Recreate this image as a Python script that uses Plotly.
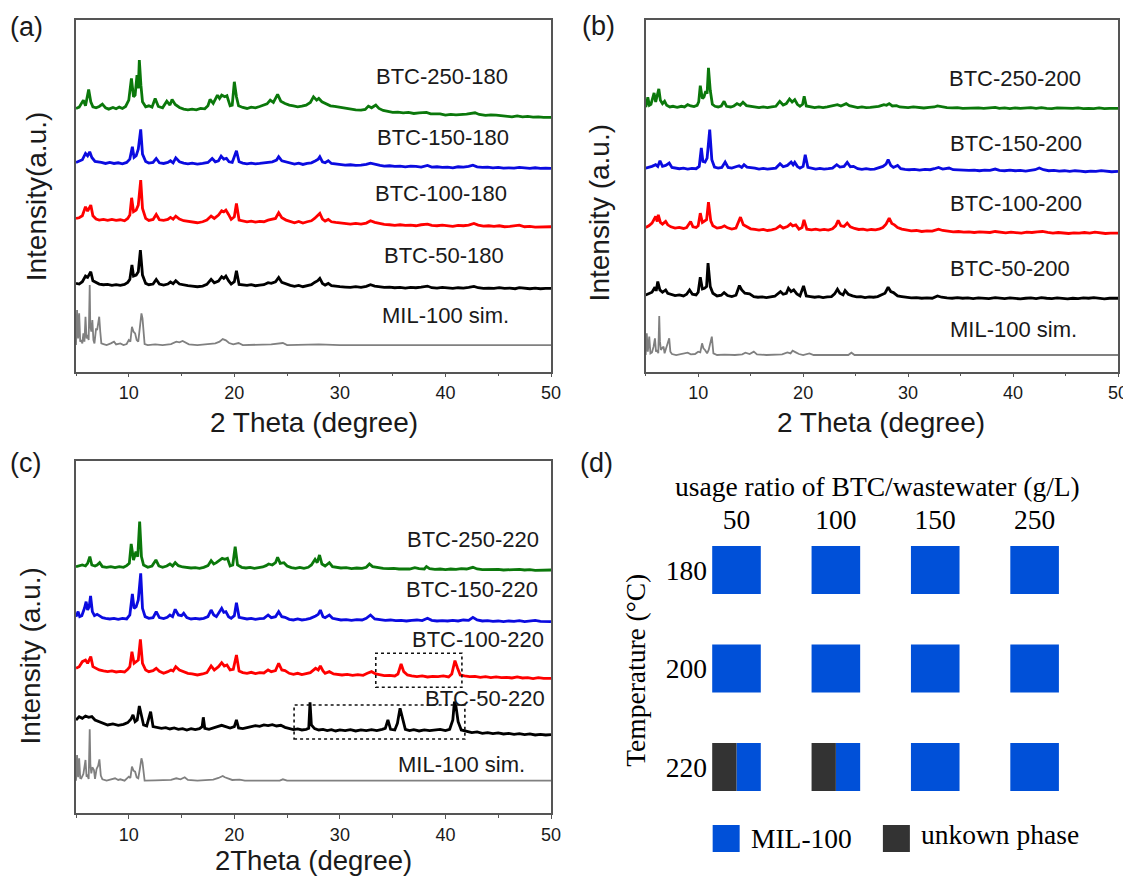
import plotly.graph_objects as go

# ---------------- shared axis settings ----------------
TWO_THETA_RANGE = [5, 50]
X_TICKS = [10, 20, 30, 40, 50]
COLORS = ["#0B780B", "#0B0BE0", "#FF0000", "#000000", "#808080"]

# ---------------- panel (a) : 180 C ----------------
A_LABELS = ["BTC-250-180", "BTC-150-180", "BTC-100-180", "BTC-50-180", "MIL-100 sim."]
A_OFFSETS = [790, 628, 460, 265, 80]
A_LABEL_X = [39.7, 39.76, 39.6, 39.85, 40.05]
A_LABEL_Y = [885, 703, 535, 350, 170]

A_250 = [(5.0,0),(5.3,4),(5.7,25),(5.9,8),(6.2,57),(6.4,20),(6.6,5),(6.9,2),(7.2,6),(7.5,13),(7.8,2),(8.1,-2),(8.5,3),(8.8,-1),(9.1,4),(9.4,0),(9.7,6),(10.0,25),(10.25,90),(10.45,35),(10.6,40),(10.78,100),(10.9,60),(11.0,145),(11.15,70),(11.3,20),(11.6,5),(11.9,8),(12.2,4),(12.5,30),(12.8,6),(13.2,2),(13.6,22),(13.9,10),(14.1,27),(14.4,12),(14.8,3),(15.2,-2),(15.6,-4),(16.0,-2),(16.4,-4),(16.8,0),(17.2,-1),(17.5,8),(17.7,27),(18.0,15),(18.4,40),(18.6,30),(18.8,40),(19.1,35),(19.3,38),(19.6,8),(19.8,10),(20.0,80),(20.2,35),(20.4,8),(20.8,3),(21.2,0),(21.6,4),(22.0,2),(22.4,6),(22.8,10),(23.1,14),(23.4,25),(23.7,18),(24.1,42),(24.4,22),(24.8,15),(25.2,10),(25.6,8),(26.0,5),(26.4,7),(26.8,10),(27.2,18),(27.5,35),(27.8,25),(28.0,30),(28.3,20),(28.7,15),(29.1,8),(29.5,6),(30.0,3),(30.5,0),(31.0,-2),(31.5,-4),(32.0,-5),(32.4,-3),(32.7,7),(33.0,2),(33.4,10),(33.7,0),(34.1,-6),(34.5,-8),(35.0,-12),(35.5,-11),(36.0,-13),(36.5,-12),(37.0,-15),(37.5,-13),(38.2,-12),(38.6,-16),(39.0,-17),(39.5,-16),(40.0,-20),(40.5,-18),(41.0,-19),(41.5,-18),(42.0,-17),(42.8,-13),(43.2,-18),(43.8,-21),(44.3,-19),(44.8,-20),(45.3,-22),(45.8,-23),(46.3,-25),(46.8,-22),(47.3,-25),(47.8,-24),(48.3,-26),(48.8,-25),(49.3,-27),(50.0,-27)]
A_150 = [(5.0,0),(5.3,3),(5.6,8),(5.9,27),(6.1,20),(6.3,32),(6.5,15),(6.8,3),(7.1,2),(7.4,0),(7.8,-3),(8.2,0),(8.6,-3),(9.0,-1),(9.4,-4),(9.8,0),(10.1,10),(10.34,47),(10.5,15),(10.7,20),(10.9,40),(11.13,99),(11.3,25),(11.6,3),(11.9,-2),(12.3,0),(12.6,12),(12.9,-1),(13.3,-3),(13.7,0),(13.95,5),(14.2,-1),(14.45,14),(14.8,2),(15.2,-2),(15.6,-4),(16.0,-2),(16.5,-5),(17.0,-3),(17.5,0),(17.9,12),(18.2,2),(18.5,5),(18.75,19),(19.0,10),(19.25,12),(19.5,2),(19.8,0),(20.2,35),(20.45,2),(20.8,-2),(21.2,-4),(21.6,-2),(22.0,-4),(22.4,-3),(22.8,-2),(23.2,0),(23.6,2),(24.0,7),(24.2,17),(24.5,5),(24.9,2),(25.3,-3),(25.7,-5),(26.1,-2),(26.5,-6),(26.9,-3),(27.3,-1),(27.7,5),(27.95,10),(28.1,17),(28.35,2),(28.6,-1),(28.9,5),(29.2,-3),(29.6,-5),(30.0,-6),(30.5,-8),(31.0,-7),(31.5,-9),(32.0,-8),(32.5,-6),(32.9,-2),(33.3,-6),(33.8,-9),(34.2,-11),(34.7,-10),(35.2,-12),(35.7,-11),(36.2,-13),(36.7,-11),(37.2,-12),(37.7,-14),(38.3,-9),(38.7,-14),(39.2,-13),(39.7,-15),(40.2,-14),(40.7,-16),(41.2,-13),(41.7,-14),(42.2,-12),(42.6,-8),(43.0,-13),(43.5,-15),(44.0,-14),(44.5,-16),(45.0,-15),(45.5,-17),(46.0,-16),(46.5,-17),(47.0,-15),(47.5,-17),(48.0,-18),(48.5,-16),(49.0,-18),(49.5,-17),(50.0,-18)]
A_100 = [(5.0,0),(5.3,2),(5.6,8),(5.9,35),(6.1,22),(6.4,40),(6.6,8),(6.9,-2),(7.2,-5),(7.6,-3),(8.0,-6),(8.4,-3),(8.8,-6),(9.2,-4),(9.6,-7),(9.9,0),(10.1,10),(10.27,62),(10.45,20),(10.7,25),(10.9,40),(11.13,115),(11.3,30),(11.6,0),(11.9,-6),(12.3,-3),(12.6,12),(12.9,-4),(13.3,-6),(13.7,-3),(13.95,3),(14.2,-2),(14.45,7),(14.8,-2),(15.2,-7),(15.6,-9),(16.0,-11),(16.5,-13),(17.0,-10),(17.4,-5),(17.8,7),(18.1,0),(18.5,10),(18.8,23),(19.0,20),(19.2,25),(19.45,12),(19.7,-3),(20.0,5),(20.2,45),(20.45,-5),(20.8,-8),(21.2,-10),(21.6,-8),(22.0,-11),(22.4,-9),(22.8,-10),(23.2,-5),(23.5,-3),(23.9,0),(24.2,17),(24.5,2),(24.9,-5),(25.3,-10),(25.7,-13),(26.1,-9),(26.5,-14),(26.9,-10),(27.3,-7),(27.6,0),(27.9,8),(28.1,15),(28.35,-2),(28.6,-8),(28.9,-3),(29.2,-10),(29.6,-12),(30.0,-14),(30.5,-15),(31.0,-17),(31.5,-15),(32.0,-17),(32.5,-14),(32.9,-7),(33.3,-12),(33.8,-16),(34.2,-18),(34.7,-19),(35.2,-21),(35.7,-19),(36.2,-21),(36.7,-20),(37.2,-22),(37.7,-19),(38.3,-17),(38.7,-21),(39.2,-22),(39.7,-20),(40.2,-22),(40.7,-24),(41.2,-21),(41.7,-22),(42.2,-20),(42.7,-15),(43.1,-20),(43.6,-23),(44.1,-22),(44.6,-24),(45.1,-22),(45.6,-25),(46.1,-24),(46.6,-22),(47.0,-20),(47.5,-25),(48.0,-24),(48.5,-26),(49.0,-25),(49.5,-26),(50.0,-25)]
A_50 = [(5.0,0),(5.3,-2),(5.6,5),(5.9,22),(6.1,18),(6.4,35),(6.6,8),(6.9,2),(7.2,-2),(7.6,-4),(8.0,-3),(8.4,-6),(8.8,-4),(9.2,-6),(9.6,-3),(9.9,3),(10.1,12),(10.3,55),(10.45,22),(10.7,25),(10.9,35),(11.1,100),(11.3,25),(11.6,0),(11.9,-4),(12.3,-2),(12.6,12),(12.9,-2),(13.3,-5),(13.7,-2),(13.95,4),(14.2,-1),(14.45,8),(14.8,-2),(15.2,-5),(15.6,-7),(16.0,-8),(16.5,-10),(17.0,-8),(17.4,-3),(17.8,12),(18.1,2),(18.5,7),(18.8,20),(19.0,15),(19.2,22),(19.45,8),(19.7,-2),(20.0,5),(20.2,38),(20.45,-3),(20.8,-5),(21.2,-6),(21.6,-4),(22.0,-7),(22.4,-5),(22.8,-4),(23.2,2),(23.5,0),(23.9,5),(24.2,18),(24.5,3),(24.9,-2),(25.3,-6),(25.7,-9),(26.1,-6),(26.5,-10),(26.9,-7),(27.3,-4),(27.6,3),(27.9,8),(28.1,15),(28.35,0),(28.6,-5),(28.9,0),(29.2,-7),(29.6,-9),(30.0,-10),(30.5,-11),(31.0,-12),(31.5,-10),(32.0,-12),(32.5,-9),(32.9,-4),(33.3,-8),(33.8,-11),(34.2,-12),(34.7,-11),(35.2,-13),(35.7,-12),(36.2,-14),(36.7,-12),(37.2,-13),(37.7,-11),(38.3,-8),(38.7,-13),(39.2,-14),(39.7,-12),(40.2,-14),(40.7,-15),(41.2,-13),(41.7,-14),(42.2,-12),(42.7,-9),(43.1,-13),(43.6,-15),(44.1,-14),(44.6,-15),(45.1,-13),(45.6,-15),(46.1,-14),(46.6,-16),(47.0,-13),(47.5,-15),(48.0,-16),(48.5,-14),(49.0,-16),(49.5,-15),(50.0,-15)]
A_SIM = [(5.0,0),(5.05,60),(5.1,105),(5.2,20),(5.3,95),(5.4,10),(5.5,15),(5.6,5),(5.7,35),(5.8,10),(5.9,85),(6.0,20),(6.1,30),(6.2,15),(6.3,180),(6.35,60),(6.45,40),(6.55,75),(6.65,15),(6.75,5),(6.9,50),(7.0,45),(7.1,60),(7.2,85),(7.3,40),(7.4,5),(7.6,3),(7.9,0),(8.3,5),(8.6,10),(8.8,2),(9.2,5),(9.5,0),(9.8,3),(10.0,15),(10.15,10),(10.3,55),(10.45,40),(10.6,35),(10.75,15),(10.9,10),(11.05,45),(11.2,95),(11.3,80),(11.4,30),(11.5,3),(11.8,0),(12.5,2),(13.2,0),(14.0,3),(14.5,10),(14.8,8),(15.1,12),(15.4,8),(15.7,2),(16.5,0),(17.5,2),(18.2,5),(18.6,10),(18.9,18),(19.2,14),(19.5,6),(19.9,2),(20.4,6),(20.8,0),(22.0,1),(23.5,2),(24.6,6),(25.0,0),(28.0,2),(30.0,0),(50.0,0)]

# ---------------- panel (b) : 200 C ----------------
B_LABELS = ["BTC-250-200", "BTC-150-200", "BTC-100-200", "BTC-50-200", "MIL-100 sim."]
B_OFFSETS = [793, 610, 432, 230, 50]
B_LABEL_X = [40.2, 40.25, 40.25, 39.74, 40.08]
B_LABEL_Y = [877, 685, 505, 310, 125]

B_250 = [(5.0,0),(5.1,10),(5.2,29),(5.35,5),(5.5,8),(5.65,30),(5.8,42),(5.95,15),(6.1,35),(6.25,54),(6.4,20),(6.6,10),(6.8,17),(7.0,5),(7.3,0),(7.6,2),(8.0,-1),(8.4,2),(8.7,0),(9.0,7),(9.3,3),(9.6,1),(9.9,5),(10.05,15),(10.2,64),(10.4,25),(10.55,30),(10.72,47),(10.85,40),(10.98,117),(11.15,50),(11.35,8),(11.6,2),(11.9,0),(12.2,3),(12.47,17),(12.7,2),(13.1,0),(13.4,3),(13.7,10),(14.0,5),(14.27,14),(14.6,4),(15.0,2),(15.4,0),(15.8,-2),(16.2,0),(16.6,-2),(17.0,0),(17.4,2),(17.77,17),(18.1,6),(18.4,10),(18.7,24),(18.95,15),(19.2,22),(19.45,8),(19.7,2),(19.95,8),(20.1,32),(20.3,3),(20.7,0),(21.1,-2),(21.5,0),(21.9,-2),(22.3,0),(22.7,2),(23.0,4),(23.27,7),(23.6,3),(23.9,6),(24.1,10),(24.4,4),(24.8,1),(25.2,-2),(25.6,0),(26.0,-2),(26.4,-1),(26.8,0),(27.2,2),(27.5,5),(27.7,7),(27.95,5),(28.2,10),(28.5,3),(28.9,4),(29.2,0),(29.6,-1),(30.0,-2),(30.5,0),(31.0,-2),(31.5,-3),(32.0,-1),(32.5,0),(32.8,3),(33.2,0),(33.7,-2),(34.2,-3),(34.7,-2),(35.2,-4),(35.7,-3),(36.2,-4),(36.7,-3),(37.2,-4),(37.7,-3),(38.3,-1),(38.7,-4),(39.2,-3),(39.7,-5),(40.2,-3),(40.7,-4),(41.2,-3),(41.7,-2),(42.2,-4),(42.7,-2),(43.2,-4),(43.7,-5),(44.2,-3),(44.7,-4),(45.2,-5),(45.7,-4),(46.2,-3),(46.7,-5),(47.2,-4),(47.7,-5),(48.2,-3),(48.7,-5),(49.2,-4),(50.0,-4)]
B_150 = [(5.0,0),(5.3,2),(5.6,5),(5.95,10),(6.15,5),(6.36,22),(6.6,5),(6.9,8),(7.24,15),(7.5,2),(7.8,0),(8.2,-2),(8.6,0),(9.0,-3),(9.4,-1),(9.8,-2),(10.1,5),(10.3,60),(10.45,20),(10.65,18),(10.85,30),(11.1,115),(11.3,25),(11.55,3),(11.9,0),(12.25,2),(12.57,18),(12.85,2),(13.2,0),(13.6,3),(13.9,7),(14.15,2),(14.37,10),(14.65,3),(15.0,2),(15.4,0),(15.8,-3),(16.2,-1),(16.6,-3),(17.0,-2),(17.4,0),(17.8,13),(18.1,4),(18.5,8),(18.86,18),(19.05,10),(19.2,17),(19.45,5),(19.7,0),(20.0,5),(20.2,40),(20.45,2),(20.8,-1),(21.2,-3),(21.6,-1),(22.0,-3),(22.4,-2),(22.8,0),(23.2,10),(23.5,3),(23.9,5),(24.2,17),(24.5,4),(24.8,5),(25.2,-2),(25.6,-4),(26.0,-2),(26.4,-4),(26.8,-3),(27.2,0),(27.6,5),(27.9,12),(28.1,25),(28.35,8),(28.6,2),(29.0,8),(29.3,-2),(29.7,-4),(30.1,-5),(30.6,-4),(31.1,-6),(31.6,-4),(32.1,-5),(32.5,-2),(32.9,2),(33.3,-3),(33.9,0),(34.3,-5),(34.8,-6),(35.3,-5),(35.8,-7),(36.3,-6),(36.8,-8),(37.3,-6),(37.8,-7),(38.3,-3),(38.7,-7),(39.2,-8),(39.7,-6),(40.2,-8),(40.7,-7),(41.2,-9),(41.7,-7),(42.1,-5),(42.5,0),(42.9,-5),(43.4,-8),(43.9,-7),(44.4,-9),(44.9,-8),(45.4,-10),(45.9,-8),(46.4,-9),(46.9,-11),(47.4,-9),(47.9,-10),(48.4,-8),(48.9,-10),(49.4,-11),(50.0,-10)]
B_100 = [(5.0,0),(5.3,5),(5.6,13),(5.95,33),(6.1,18),(6.2,38),(6.4,15),(6.6,10),(6.9,18),(7.1,8),(7.4,2),(7.8,-2),(8.2,0),(8.6,-3),(8.9,0),(9.28,18),(9.5,2),(9.8,0),(10.0,5),(10.2,43),(10.4,15),(10.6,18),(10.8,23),(10.98,76),(11.2,20),(11.4,5),(11.8,-2),(12.2,0),(12.5,5),(12.8,-1),(13.2,-5),(13.6,-2),(13.85,15),(14.03,31),(14.3,8),(14.6,3),(15.0,-4),(15.4,-6),(15.8,-8),(16.2,-6),(16.6,-9),(17.0,-7),(17.4,-4),(17.8,5),(18.1,-2),(18.5,3),(18.8,11),(19.0,5),(19.3,8),(19.6,-5),(19.9,0),(20.08,23),(20.35,-5),(20.8,-7),(21.2,-5),(21.6,-8),(22.0,-6),(22.4,-8),(22.8,-4),(23.1,5),(23.34,21),(23.6,5),(23.9,3),(24.2,13),(24.5,2),(24.9,-3),(25.3,-6),(25.7,-5),(26.1,-8),(26.5,-6),(26.9,-7),(27.3,-4),(27.6,0),(27.9,10),(28.2,28),(28.45,12),(28.7,8),(29.0,0),(29.4,-5),(29.8,-7),(30.3,-10),(30.8,-9),(31.3,-12),(31.8,-10),(32.3,-11),(32.9,-5),(33.3,-9),(33.8,-11),(34.3,-13),(34.8,-12),(35.3,-14),(35.8,-13),(36.3,-15),(36.8,-13),(37.3,-14),(37.8,-15),(38.3,-12),(38.8,-15),(39.3,-16),(39.8,-14),(40.3,-15),(40.8,-17),(41.3,-14),(41.8,-15),(42.3,-13),(42.8,-12),(43.3,-15),(43.8,-17),(44.3,-15),(44.8,-16),(45.3,-18),(45.8,-16),(46.3,-17),(46.8,-15),(47.3,-17),(47.8,-14),(48.3,-16),(48.8,-18),(49.3,-17),(50.0,-17)]
B_50 = [(5.0,0),(5.3,3),(5.6,8),(5.88,23),(6.0,12),(6.15,40),(6.35,15),(6.6,8),(6.9,15),(7.1,5),(7.4,2),(7.8,-2),(8.2,0),(8.6,-3),(8.9,2),(9.18,15),(9.45,2),(9.8,0),(10.0,8),(10.2,53),(10.4,18),(10.6,20),(10.8,25),(10.94,95),(11.15,25),(11.4,5),(11.8,-3),(12.2,-1),(12.47,7),(12.8,-2),(13.2,-5),(13.6,-1),(13.93,28),(14.15,15),(14.45,5),(14.9,3),(15.3,-5),(15.7,-7),(16.1,-6),(16.5,-8),(16.9,-6),(17.3,-4),(17.84,10),(18.1,2),(18.4,5),(18.6,20),(18.85,10),(19.1,15),(19.4,3),(19.7,-3),(20.04,27),(20.3,-3),(20.7,-5),(21.1,-7),(21.5,-5),(21.9,-8),(22.3,-6),(22.7,-5),(23.0,3),(23.27,17),(23.5,5),(23.8,0),(24.0,13),(24.3,2),(24.7,-3),(25.1,-6),(25.5,-5),(25.9,-8),(26.3,-6),(26.7,-7),(27.1,-5),(27.5,0),(27.8,5),(28.1,23),(28.35,10),(28.6,7),(29.0,-3),(29.4,-5),(29.8,-7),(30.3,-9),(30.8,-8),(31.3,-10),(31.8,-9),(32.3,-10),(32.8,-3),(33.2,-7),(33.7,-9),(34.2,-10),(34.7,-8),(35.2,-10),(35.7,-9),(36.2,-11),(36.7,-9),(37.2,-10),(37.7,-11),(38.3,-8),(38.7,-10),(39.2,-11),(39.7,-9),(40.2,-10),(40.7,-12),(41.2,-10),(41.7,-9),(42.2,-11),(42.7,-8),(43.2,-10),(43.7,-11),(44.2,-9),(44.7,-10),(45.2,-12),(45.7,-10),(46.2,-11),(46.7,-9),(47.2,-10),(47.7,-8),(48.2,-10),(48.7,-12),(49.2,-10),(50.0,-10)]
B_SIM = [(5.0,0),(5.05,30),(5.1,65),(5.2,10),(5.34,55),(5.45,5),(5.6,8),(5.75,25),(5.88,50),(5.98,10),(6.1,15),(6.2,5),(6.29,117),(6.36,40),(6.45,15),(6.55,20),(6.7,25),(6.8,5),(6.95,20),(7.1,30),(7.24,50),(7.35,10),(7.5,3),(7.9,0),(8.3,3),(8.7,5),(9.0,7),(9.3,2),(9.7,3),(10.0,10),(10.2,8),(10.37,35),(10.5,20),(10.65,15),(10.85,5),(11.0,15),(11.2,50),(11.3,55),(11.45,5),(11.8,0),(12.5,1),(13.5,0),(14.2,2),(14.5,7),(14.9,3),(15.3,10),(15.6,2),(16.5,0),(18.0,2),(18.5,8),(18.8,5),(19.0,13),(19.3,8),(19.6,3),(20.0,0),(20.6,5),(21.0,0),(24.3,0),(24.6,7),(24.9,0),(50.0,0)]

# ---------------- panel (c) : 220 C ----------------
C_LABELS = ["BTC-250-220", "BTC-150-220", "BTC-100-220", "BTC-50-220", "MIL-100 sim."]
C_OFFSETS = [740, 585, 430, 280, 98]
C_LABEL_X = [42.6, 42.53, 43.05, 43.73, 41.5]
C_LABEL_Y = [820, 670, 520, 345, 145]

C_250 = [(5.0,0),(5.3,3),(5.6,5),(5.9,2),(6.1,10),(6.31,30),(6.5,5),(6.8,2),(7.0,5),(7.24,12),(7.5,0),(7.9,-2),(8.3,0),(8.7,-3),(9.1,0),(9.5,-2),(9.8,3),(10.05,10),(10.23,68),(10.45,20),(10.68,45),(10.85,30),(11.03,135),(11.2,30),(11.4,5),(11.8,-2),(12.2,2),(12.57,20),(12.85,2),(13.2,-2),(13.6,2),(13.9,8),(14.15,2),(14.4,12),(14.7,3),(15.1,-1),(15.5,-3),(15.9,-4),(16.3,-3),(16.7,-5),(17.1,-2),(17.5,3),(17.8,18),(18.05,8),(18.3,12),(18.6,20),(18.85,25),(19.1,22),(19.35,25),(19.6,2),(19.85,5),(20.08,60),(20.3,5),(20.7,-2),(21.1,-4),(21.5,-2),(21.9,-5),(22.3,-3),(22.7,-1),(23.0,3),(23.25,8),(23.6,5),(23.9,12),(24.1,28),(24.35,10),(24.7,12),(25.0,2),(25.4,-3),(25.8,-5),(26.2,-2),(26.6,-5),(27.0,-2),(27.3,5),(27.65,22),(27.85,12),(28.07,35),(28.3,8),(28.6,2),(29.0,12),(29.3,0),(29.7,-3),(30.1,-4),(30.6,-3),(31.1,-6),(31.6,-4),(32.1,-5),(32.5,-2),(32.8,8),(33.1,0),(33.6,-3),(34.1,-5),(34.6,-6),(35.1,-5),(35.6,-7),(36.1,-6),(36.6,-7),(37.1,-3),(37.5,-6),(38.0,-7),(38.2,0),(38.5,-6),(39.0,-8),(39.5,-7),(40.0,-9),(40.5,-7),(41.0,-8),(41.5,-6),(42.0,-7),(42.6,-2),(43.0,-7),(43.5,-9),(44.0,-8),(44.5,-9),(45.0,-8),(45.5,-10),(46.0,-9),(46.5,-10),(47.0,-8),(47.5,-10),(48.0,-9),(48.5,-11),(49.0,-10),(49.5,-11),(50.0,-10)]
C_150 = [(5.0,5),(5.2,20),(5.35,5),(5.55,8),(5.8,30),(5.96,50),(6.1,25),(6.25,35),(6.38,67),(6.55,20),(6.75,8),(7.0,12),(7.2,8),(7.5,2),(7.8,0),(8.2,-2),(8.6,0),(9.0,-3),(9.4,0),(9.8,-2),(10.1,10),(10.34,73),(10.5,30),(10.7,35),(10.9,55),(11.13,135),(11.3,30),(11.55,5),(11.9,0),(12.3,2),(12.6,20),(12.9,2),(13.3,-1),(13.65,3),(13.9,10),(14.15,5),(14.4,27),(14.7,10),(15.0,8),(15.2,15),(15.5,2),(15.9,-2),(16.3,0),(16.7,-2),(17.1,0),(17.5,5),(17.8,25),(18.05,10),(18.3,5),(18.6,18),(18.8,30),(19.0,18),(19.2,20),(19.45,5),(19.7,0),(20.0,8),(20.2,47),(20.45,3),(20.8,0),(21.2,-2),(21.6,0),(22.0,-3),(22.4,-1),(22.8,0),(23.2,10),(23.5,2),(23.9,5),(24.2,20),(24.5,5),(24.8,3),(25.2,-3),(25.6,-5),(26.0,-2),(26.4,-5),(26.8,-3),(27.2,0),(27.7,7),(27.95,12),(28.15,25),(28.4,5),(28.6,2),(29.0,10),(29.3,0),(29.7,-3),(30.1,-5),(30.6,-4),(31.1,-6),(31.6,-4),(32.1,-5),(32.5,0),(32.9,10),(33.3,-2),(33.8,-5),(34.3,-6),(34.8,-5),(35.3,-7),(35.8,-6),(36.3,-8),(36.8,-6),(37.3,-5),(37.8,-7),(38.3,0),(38.7,-6),(39.2,-8),(39.7,-7),(40.2,-8),(40.7,-6),(41.2,-8),(41.7,-5),(42.2,-6),(42.6,3),(43.0,-5),(43.5,-8),(44.0,-7),(44.5,-9),(45.0,-8),(45.5,-10),(46.0,-8),(46.5,-9),(47.0,-7),(47.5,-10),(48.0,-9),(48.5,-6),(49.0,-9),(49.5,-10),(50.0,-10)]
C_100 = [(5.0,5),(5.3,10),(5.6,25),(5.9,30),(6.1,20),(6.4,40),(6.6,10),(6.9,5),(7.2,0),(7.6,-3),(8.0,-5),(8.4,-3),(8.8,-6),(9.2,-4),(9.6,-6),(9.9,2),(10.1,10),(10.3,55),(10.5,20),(10.7,25),(10.9,30),(11.1,92),(11.3,20),(11.6,0),(11.9,-5),(12.3,-2),(12.6,5),(12.9,-4),(13.3,-10),(13.7,-5),(14.0,0),(14.2,-3),(14.45,10),(14.8,0),(15.2,-5),(15.6,-10),(16.0,-12),(16.5,-15),(17.0,-12),(17.4,-8),(17.8,12),(18.1,0),(18.5,10),(18.8,22),(19.05,12),(19.3,15),(19.6,0),(19.9,2),(20.2,45),(20.45,-3),(20.8,-8),(21.2,-10),(21.6,-7),(22.0,-11),(22.4,-8),(22.8,-9),(23.2,0),(23.5,-5),(23.9,-2),(24.2,20),(24.5,0),(24.8,-2),(25.2,-10),(25.6,-13),(26.0,-10),(26.4,-14),(26.8,-11),(27.2,-8),(27.7,5),(27.95,0),(28.15,12),(28.4,-3),(28.6,-10),(29.0,-5),(29.4,-12),(29.8,-14),(30.2,-15),(30.7,-13),(31.2,-16),(31.7,-14),(32.2,-16),(32.6,-10),(33.0,-5),(33.4,-12),(33.8,-15),(34.2,-17),(34.7,-16),(35.2,-18),(35.5,-12),(35.8,18),(36.05,-5),(36.4,-15),(36.8,-18),(37.3,-20),(37.8,-18),(38.3,-21),(38.8,-19),(39.3,-20),(39.8,-18),(40.3,-21),(40.6,-12),(40.9,28),(41.15,5),(41.4,-15),(41.8,-18),(42.3,-20),(42.8,-19),(43.3,-22),(43.8,-20),(44.3,-23),(44.8,-21),(45.3,-23),(45.8,-22),(46.3,-24),(46.8,-21),(47.3,-24),(47.8,-23),(48.3,-26),(48.8,-23),(49.3,-25),(50.0,-25)]
C_50 = [(5.0,0),(5.3,10),(5.6,5),(5.9,12),(6.2,8),(6.5,10),(6.8,0),(7.2,-5),(7.6,-12),(8.0,-15),(8.5,-12),(9.0,-16),(9.5,-13),(9.9,-8),(10.2,2),(10.4,15),(10.6,-5),(10.8,0),(11.0,42),(11.2,10),(11.4,-15),(11.7,-18),(12.07,25),(12.3,-20),(12.7,-22),(13.1,-25),(13.5,-23),(13.9,-27),(14.3,-24),(14.7,-28),(15.1,-26),(15.5,-30),(15.9,-26),(16.3,-29),(16.7,-26),(16.95,-20),(17.06,8),(17.2,-25),(17.6,-28),(18.0,-23),(18.4,-20),(18.8,-16),(19.2,-20),(19.6,-24),(20.0,-20),(20.2,0),(20.4,-24),(20.8,-26),(21.2,-23),(21.6,-20),(22.0,-17),(22.4,-19),(22.8,-15),(23.2,-17),(23.6,-14),(24.0,-18),(24.4,-16),(24.8,-22),(25.2,-26),(25.6,-29),(26.0,-27),(26.4,-30),(26.8,-28),(27.05,-25),(27.17,53),(27.3,-15),(27.6,-26),(28.0,-30),(28.4,-28),(28.8,-32),(29.2,-29),(29.6,-33),(30.0,-30),(30.5,-32),(31.0,-29),(31.5,-33),(32.0,-30),(32.5,-32),(33.0,-29),(33.5,-32),(34.0,-28),(34.3,-25),(34.55,0),(34.8,-28),(35.2,-30),(35.45,-10),(35.7,35),(35.95,0),(36.2,-28),(36.6,-32),(37.0,-29),(37.5,-33),(38.0,-30),(38.5,-32),(39.0,-29),(39.5,-28),(40.0,-32),(40.4,-28),(40.7,0),(40.85,55),(41.0,40),(41.2,-5),(41.5,-30),(42.0,-35),(42.5,-38),(43.0,-36),(43.5,-40),(44.0,-38),(44.5,-41),(45.0,-39),(45.5,-42),(46.0,-40),(46.5,-43),(47.0,-41),(47.5,-44),(48.0,-42),(48.5,-45),(49.0,-43),(49.5,-45),(50.0,-44)]
C_SIM = [(5.0,0),(5.05,40),(5.1,77),(5.2,10),(5.3,67),(5.4,8),(5.5,7),(5.7,20),(5.9,62),(6.0,12),(6.1,15),(6.2,5),(6.3,154),(6.36,50),(6.45,22),(6.55,40),(6.7,32),(6.8,5),(6.95,35),(7.1,45),(7.22,64),(7.35,15),(7.5,4),(7.9,0),(8.3,3),(8.7,7),(9.0,2),(9.2,4),(9.6,0),(10.0,12),(10.15,8),(10.3,42),(10.45,30),(10.6,27),(10.75,10),(10.9,7),(11.05,35),(11.2,67),(11.3,55),(11.4,15),(11.5,0),(12.5,1),(14.0,2),(14.5,7),(14.9,4),(15.3,10),(15.6,2),(16.5,0),(18.0,3),(18.5,8),(18.9,14),(19.1,10),(19.4,6),(19.8,2),(20.5,3),(21.0,0),(24.3,0),(24.6,4),(25.0,0),(28.0,2),(28.3,0),(50.0,0)]

# dashed regions marking the unknown-phase reflections in (c): [x0, x1, y0, y1]
C_BOXES = [[33.4, 41.56, 378, 480], [25.66, 41.84, 223, 325]]

# ---------------- panel (d) : phase map ----------------
RATIOS = ["50", "100", "150", "250"]
TEMPS = ["180", "200", "220"]
UNKNOWN_FRACTION = [[0, 0, 0, 0],
                    [0, 0, 0, 0],
                    [0.5, 0.5, 0, 0]]
MIL_COLOR = "#0050D8"
UNK_COLOR = "#333333"

SANS = "Arial, Liberation Sans, sans-serif"
SERIF = "Times New Roman, Liberation Serif, serif"
TXT = "#1a1a1a"
AXC = "#555555"

# the page body has an 8 px default margin: the figure is drawn 8 px in from the window corner
PAGE_OFFSET = 8
WIN_W, WIN_H = 1131, 879
W, H = WIN_W - PAGE_OFFSET, WIN_H - PAGE_OFFSET

def px(xp):
    return (xp - PAGE_OFFSET) / W
def py(yp):
    return 1 - (yp - PAGE_OFFSET) / H

fig = go.Figure()

panels = [
    ("x", "y", [A_250, A_150, A_100, A_50, A_SIM], A_OFFSETS, A_LABELS, A_LABEL_X, A_LABEL_Y),
    ("x2", "y2", [B_250, B_150, B_100, B_50, B_SIM], B_OFFSETS, B_LABELS, B_LABEL_X, B_LABEL_Y),
    ("x3", "y3", [C_250, C_150, C_100, C_50, C_SIM], C_OFFSETS, C_LABELS, C_LABEL_X, C_LABEL_Y),
]

annotations = []
shapes = []
for xa, ya, series, offsets, labels, lx, ly in panels:
    for i, pts in enumerate(series):
        fig.add_trace(go.Scatter(
            x=[p[0] for p in pts], y=[offsets[i] + p[1] for p in pts],
            mode="lines", line=dict(color=COLORS[i], width=2.8 if i < 4 else 1.8),
            xaxis=xa, yaxis=ya, showlegend=False, hoverinfo="skip", name=labels[i]))
        annotations.append(dict(x=lx[i], y=ly[i], xref=xa, yref=ya, text=labels[i],
                                showarrow=False, xanchor="center", yanchor="middle",
                                font=dict(family=SANS, size=22, color=TXT)))

for x0, x1, y0, y1 in C_BOXES:
    shapes.append(dict(type="rect", xref="x3", yref="y3", x0=x0, x1=x1, y0=y0, y1=y1,
                       line=dict(color="#111111", width=1.6, dash="dot"), layer="above"))

# panel (d) bars
CELL_W = 0.489
CELL_H = 0.487
mil = dict(x=[], base=[], w=[], off=[])
unk = dict(x=[], base=[], w=[], off=[])
for r, row in enumerate(UNKNOWN_FRACTION):
    for c, f in enumerate(row):
        if f < 1:
            mil["x"].append(c); mil["base"].append(r - CELL_H / 2)
            mil["w"].append(CELL_W * (1 - f)); mil["off"].append(-CELL_W / 2 + CELL_W * f)
        if f > 0:
            unk["x"].append(c); unk["base"].append(r - CELL_H / 2)
            unk["w"].append(CELL_W * f); unk["off"].append(-CELL_W / 2)

for d, col, nm in [(mil, MIL_COLOR, "MIL-100"), (unk, UNK_COLOR, "unkown phase")]:
    fig.add_trace(go.Bar(x=d["x"], y=[CELL_H] * len(d["x"]), base=d["base"], width=d["w"],
                         offset=d["off"], marker=dict(color=col, line=dict(width=0)),
                         xaxis="x4", yaxis="y4", showlegend=False, hoverinfo="skip", name=nm))

# legend for (d)
LEG_Y = 2.726
fig.add_trace(go.Scatter(x=[-0.104, 1.609], y=[LEG_Y, LEG_Y], mode="markers",
                         marker=dict(symbol="square", size=27, color=[MIL_COLOR, UNK_COLOR], line=dict(width=0)),
                         xaxis="x4", yaxis="y4", showlegend=False, hoverinfo="skip"))
annotations.append(dict(x=0.126, y=LEG_Y, xref="x4", yref="y4", text="MIL-100", showarrow=False,
                        xanchor="left", yanchor="middle", font=dict(family=SERIF, size=27.5, color="#000")))
annotations.append(dict(x=1.832, y=2.69, xref="x4", yref="y4", text="unkown phase", showarrow=False,
                        xanchor="left", yanchor="middle", font=dict(family=SERIF, size=27.5, color="#000")))

# axis titles and panel tags
for txt, x, y, ang in [
    ("Intensity(a.u.)", 36.3, 196, -90),
    ("Intensity (a.u.)", 600.4, 213, -90),
    ("Intensity (a.u.)", 30.9, 655.7, -90),
]:
    annotations.append(dict(x=px(x), y=py(y), xref="paper", yref="paper", text=txt, textangle=ang,
                            showarrow=False, xanchor="center", yanchor="middle",
                            font=dict(family=SANS, size=28, color=TXT)))
for txt, x, y, fs in [("2 Theta (degree)", 313.5, 423, 28), ("2 Theta (degree)", 881, 423, 28),
                      ("2Theta (degree)", 313, 860, 27.5)]:
    annotations.append(dict(x=px(x), y=py(y), xref="paper", yref="paper", text=txt,
                            showarrow=False, xanchor="center", yanchor="middle",
                            font=dict(family=SANS, size=fs, color=TXT)))
for txt, x, y in [("(a)", 26, 27.5), ("(b)", 598, 26), ("(c)", 25, 463), ("(d)", 596, 463)]:
    annotations.append(dict(x=px(x), y=py(y), xref="paper", yref="paper", text=txt,
                            showarrow=False, xanchor="center", yanchor="middle",
                            font=dict(family=SANS, size=27, color=TXT)))
annotations.append(dict(x=px(877.8), y=py(486.7), xref="paper", yref="paper",
                        text="usage ratio of BTC/wastewater (g/L)", showarrow=False,
                        xanchor="center", yanchor="middle", font=dict(family=SERIF, size=27.5, color="#000")))
annotations.append(dict(x=px(634.8), y=py(670), xref="paper", yref="paper", text="Temperature (°C)",
                        textangle=-90, showarrow=False, xanchor="center", yanchor="middle",
                        font=dict(family=SERIF, size=27.5, color="#000")))

def xrd_xaxis(domain, anchor):
    return dict(domain=domain, anchor=anchor, range=TWO_THETA_RANGE, tickvals=X_TICKS,
                ticks="outside", ticklen=4, tickwidth=1.3, tickcolor=AXC,
                minor=dict(ticks="outside", ticklen=3, tickwidth=1.2, tickcolor=AXC, dtick=5, tick0=5, showgrid=False),
                showline=True, mirror=True, linecolor=AXC, linewidth=1.5,
                showgrid=False, zeroline=False, automargin=False,
                tickfont=dict(family=SANS, size=18, color=TXT))

def xrd_yaxis(domain, anchor, rng):
    return dict(domain=domain, anchor=anchor, range=rng, showticklabels=False, ticks="",
                showline=True, mirror=True, linecolor=AXC, linewidth=1.5,
                showgrid=False, zeroline=False, automargin=False)

fig.update_layout(
    width=W, height=H, margin=dict(l=0, r=0, t=0, b=0),
    paper_bgcolor="white", plot_bgcolor="white", barmode="overlay", showlegend=False,
    xaxis=xrd_xaxis([px(76), px(551)], "y"),
    yaxis=xrd_yaxis([py(371.7), py(19.5)], "x", [0, 1057]),
    xaxis2=xrd_xaxis([px(645.7), px(1118)], "y2"),
    yaxis2=xrd_yaxis([py(371.7), py(19.5)], "x2", [0, 1055]),
    xaxis3=xrd_xaxis([px(76), px(551)], "y3"),
    yaxis3=xrd_yaxis([py(813.3), py(461)], "x3", [0, 1057]),
    xaxis4=dict(domain=[px(708), 1.0], anchor="y4", side="top", range=[-0.2868, 3.970],
                tickvals=[0, 1, 2, 3], ticktext=RATIOS, ticks="", showline=False, showgrid=False,
                zeroline=False, automargin=False, tickfont=dict(family=SERIF, size=27.5, color="#000")),
    yaxis4=dict(domain=[0, py(535)], anchor="x4", range=[3.137, -0.3553],
                tickvals=[0, 1, 2], ticktext=TEMPS, ticks="", showline=False, showgrid=False,
                zeroline=False, automargin=False, tickfont=dict(family=SERIF, size=27.5, color="#000")),
    annotations=annotations, shapes=shapes,
)

fig.write_html("out.html")
